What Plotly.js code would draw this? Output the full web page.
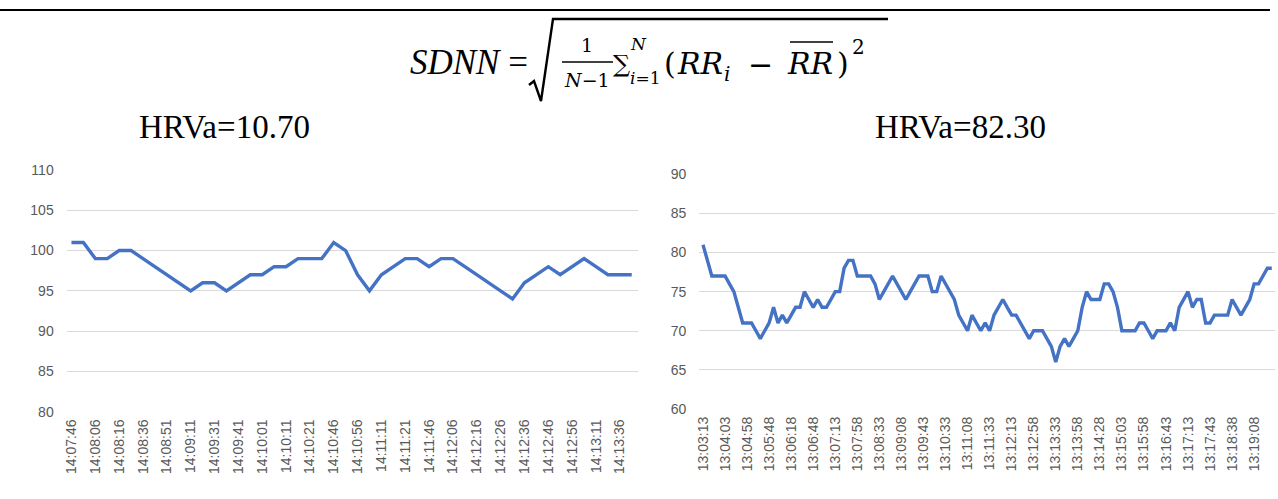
<!DOCTYPE html>
<html>
<head>
<meta charset="utf-8">
<script src="https://cdn.plot.ly/plotly-3.0.1.min.js"></script>
<style>
html,body{margin:0;padding:0;background:#fff;}
#chart{width:1278px;height:499px;}
</style>
</head>
<body>
<div id="chart"></div>
<script>
// ---- Data: left panel (HRVa = 10.70) ----
const leftTickLabels = ["14:07:46","14:08:06","14:08:16","14:08:36","14:08:51","14:09:11","14:09:31","14:09:41",
  "14:10:01","14:10:11","14:10:21","14:10:46","14:10:56","14:11:11","14:11:21","14:11:46","14:12:06","14:12:16",
  "14:12:26","14:12:36","14:12:46","14:12:56","14:13:11","14:13:36"];
const leftValues = [101,101,99,99,100,100,99,98,97,96,95,96,96,95,96,97,97,98,98,99,99,99,101,100,97,95,97,98,99,99,
  98,99,99,98,97,96,95,94,96,97,98,97,98,99,98,97,97,97];
const leftTitle = "HRVa=10.70";

// ---- Data: right panel (HRVa = 82.30) ----
const rightTickLabels = ["13:03:13","13:04:03","13:04:58","13:05:48","13:06:18","13:06:48","13:07:13","13:07:58",
  "13:08:33","13:09:08","13:09:43","13:10:33","13:11:08","13:11:33","13:12:13","13:12:58","13:13:33","13:13:58",
  "13:14:28","13:15:03","13:15:58","13:16:43","13:17:13","13:17:43","13:18:38","13:19:08"];
const rightValues = [81,79,77,77,77,77,76,75,73,71,71,71,70,69,70,71,73,71,72,71,72,73,73,75,74,73,74,73,73,74,
  75,75,78,79,79,77,77,77,77,76,74,75,76,77,76,75,74,75,76,77,77,77,75,75,77,76,75,74,72,71,
  70,72,71,70,71,70,72,73,74,73,72,72,71,70,69,70,70,70,69,68,66,68,69,68,69,70,73,75,74,74,
  74,76,76,75,73,70,70,70,70,71,71,70,69,70,70,70,71,70,73,74,75,73,74,74,71,71,72,72,72,72,
  74,73,72,73,74,76,76,77,78,78];
const rightTitle = "HRVa=82.30";

const leftTickStep = 2;
const rightTickStep = 5;

// ---- helpers (page pixel -> paper coordinates) ----
const W = 1278, H = 499;
const px = x => x / W;
const py = y => 1 - y / H;

const idx = arr => arr.map((_, i) => i);
const tickPositions = (labels, step) => labels.map((_, i) => i * step);

const blue = "#4472C4";
const grid = "#D9D9D9";
const tickFont = {family: "Liberation Sans, Arial, sans-serif", size: 14, color: "#595959"};

const traces = [
  {x: idx(leftValues), y: leftValues, type: "scatter", mode: "lines",
   line: {color: blue, width: 3.4}, xaxis: "x", yaxis: "y", hoverinfo: "skip"},
  {x: idx(rightValues), y: rightValues, type: "scatter", mode: "lines",
   line: {color: blue, width: 3.4}, xaxis: "x2", yaxis: "y2", hoverinfo: "skip"}
];

const xCommon = {showgrid: false, zeroline: false, showline: false, ticks: "",
  tickangle: -90, tickfont: tickFont, ticklabelstandoff: 4, fixedrange: true};
const yCommon = {showgrid: true, gridcolor: grid, gridwidth: 1, zeroline: false, showline: false,
  ticks: "", dtick: 5, tickfont: tickFont, ticklabelstandoff: 12, fixedrange: true};

const serif = "Liberation Serif, Times New Roman, serif";
const math = "DejaVu Serif, serif";

const ann = (x, y, text, size, fam, extra) => Object.assign({
  xref: "paper", yref: "paper", x: px(x), y: py(y), text: text, showarrow: false,
  xanchor: "center", yanchor: "middle", font: {family: fam || serif, size: size, color: "#000"}
}, extra || {});

const layout = {
  width: W, height: H,
  margin: {l: 0, r: 0, t: 0, b: 0},
  paper_bgcolor: "#fff", plot_bgcolor: "#fff",
  showlegend: false,
  xaxis: Object.assign({}, xCommon, {domain: [px(66.7), px(637.7)], range: [-0.4, leftValues.length - 0.5],
    tickmode: "array", tickvals: tickPositions(leftTickLabels, leftTickStep), ticktext: leftTickLabels, anchor: "y"}),
  yaxis: Object.assign({}, yCommon, {domain: [py(411.7), py(170)], range: [80, 110], anchor: "x"}),
  xaxis2: Object.assign({}, xCommon, {domain: [px(699.3), px(1275)], range: [-0.84, rightValues.length - 1 + 0.73],
    tickmode: "array", tickvals: tickPositions(rightTickLabels, rightTickStep), ticktext: rightTickLabels, anchor: "y2"}),
  yaxis2: Object.assign({}, yCommon, {domain: [py(409), py(174.3)], range: [60, 90], anchor: "x2"}),
  annotations: [
    ann(225, 127, leftTitle, 33),
    ann(960, 127, rightTitle, 33),
    ann(469, 62, "<i>SDNN</i> =", 35),
    ann(587, 45, "1", 19, math),
    ann(587, 80, "<i>N</i>−1", 19, math),
    ann(621, 64, "∑", 24, math),
    ann(638, 44, "<i>N</i>", 17, math),
    ann(645, 78, "<i>i</i>=1", 17, math),
    ann(670, 63, "(", 30, math),
    ann(700, 63, "<i>RR</i>", 30, math),
    ann(727, 74, "<i>i</i>", 20, math),
    ann(760, 64, "−", 30, math),
    ann(810, 63, "<i>RR</i>", 30, math),
    ann(843, 63, ")", 30, math),
    ann(858, 47, "2", 20, math)
  ],
  shapes: [
    {type: "line", xref: "paper", yref: "paper", x0: px(0), x1: px(1270), y0: py(10), y1: py(10),
     line: {color: "#000", width: 2}},
    {type: "line", xref: "paper", yref: "paper", x0: px(562), x1: px(613), y0: py(62), y1: py(62),
     line: {color: "#000", width: 1.5}},
    {type: "line", xref: "paper", yref: "paper", x0: px(790), x1: px(833), y0: py(42), y1: py(42),
     line: {color: "#000", width: 1.5}},
    {type: "path", xref: "paper", yref: "paper",
     path: "M " + px(529) + "," + py(85) + " L " + px(534) + "," + py(81) + " L " + px(541) + "," + py(101) +
           " L " + px(553) + "," + py(19) + " L " + px(888) + "," + py(19),
     line: {color: "#000", width: 2.4}}
  ]
};

Plotly.newPlot("chart", traces, layout, {displayModeBar: false, staticPlot: true});
</script>
</body>
</html>
